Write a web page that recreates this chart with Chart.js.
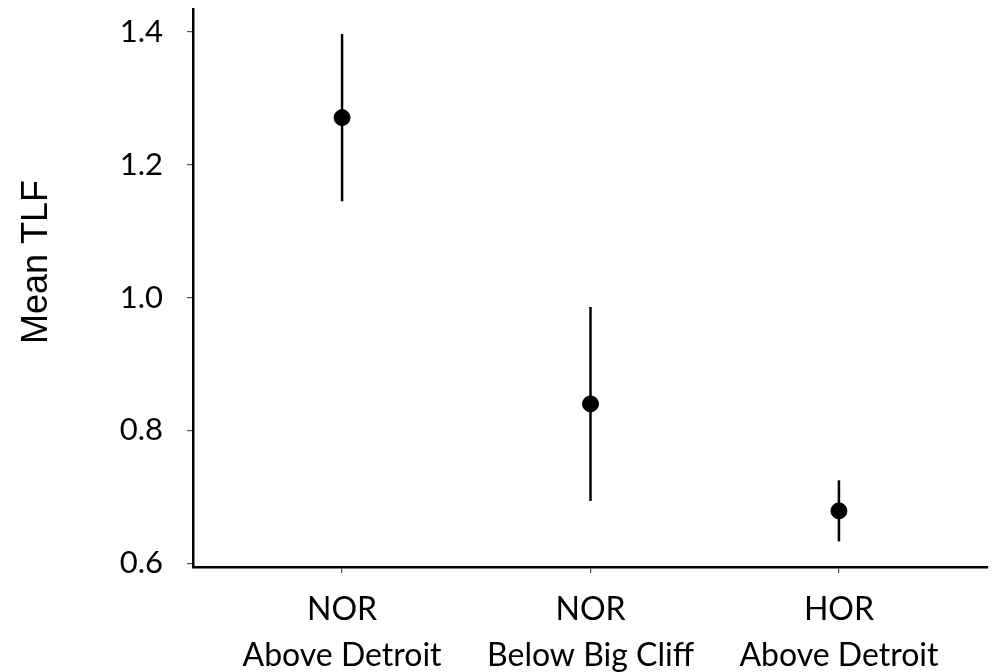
<!DOCTYPE html>
<html>
<head>
<meta charset="utf-8">
<script src="https://cdn.jsdelivr.net/npm/chart.js@4/dist/chart.umd.min.js"></script>
<style>
  html, body { margin: 0; padding: 0; background: #fff; }
  #wrap { width: 997px; height: 672px; }
</style>
</head>
<body>
<div id="wrap"><canvas id="chart" width="997" height="672"></canvas></div>
<script>
// data
const groups = [["NOR", "Above Detroit"], ["NOR", "Below Big Cliff"], ["HOR", "Above Detroit"]]
const meanTLF = [1.271, 0.840, 0.679]
const upperTLF = [1.397, 0.986, 0.725]
const lowerTLF = [1.145, 0.694, 0.633]
const yTicks = [0.6, 0.8, 1.0, 1.2, 1.4]
const yTitle = "Mean TLF"

const tickFont = { family: "Lato", size: 31 }

// error bars: one small line per group
const errorSets = groups.map((g, i) => ({
  type: "line",
  data: [
    { x: i, y: lowerTLF[i] },
    { x: i, y: upperTLF[i] },
  ],
  borderColor: "#000",
  borderWidth: 2.5,
  pointRadius: 0,
}))

const yTitlePlugin = {
  id: "yTitle",
  afterDraw(chart) {
    const ctx = chart.ctx
    ctx.save()
    ctx.translate(37, 262)
    ctx.rotate(-Math.PI / 2)
    ctx.font = "36px 'Liberation Sans', Arial, sans-serif"
    ctx.fillStyle = "#000"
    ctx.textAlign = "center"
    ctx.textBaseline = "middle"
    ctx.fillText(yTitle, 0, 0)
    ctx.restore()
  },
}

// keep the label overhang from shrinking the plot area
function noPad(scale) {
  scale.paddingTop = 0
  scale.paddingBottom = 0
  scale.paddingLeft = 0
  scale.paddingRight = 0
}

const config = {
  type: "scatter",
  data: {
    datasets: [
      {
        data: meanTLF.map((v, i) => ({ x: i, y: v })),
        backgroundColor: "#000",
        borderColor: "#000",
        pointRadius: 8,
        pointHoverRadius: 8,
      },
      ...errorSets,
    ],
  },
  options: {
    responsive: false,
    animation: false,
    layout: { padding: { top: 7, right: 6, left: 0, bottom: 0 } },
    plugins: { legend: { display: false }, tooltip: { enabled: false } },
    scales: {
      x: {
        type: "linear",
        min: -0.6,
        max: 2.6,
        afterBuildTicks: (scale) => {
          scale.ticks = groups.map((g, i) => ({ value: i }))
        },
        afterFit: (scale) => {
          scale.height = 105
          noPad(scale)
        },
        ticks: {
          callback: (val) => groups[val],
          color: "#000",
          font: { family: "Lato", size: 32, lineHeight: 1.46 },
          padding: 13,
          maxRotation: 0,
          autoSkip: false,
        },
        grid: { drawOnChartArea: false, drawTicks: true, tickLength: 6, color: "#555", lineWidth: 1.2 },
        border: { color: "#000", width: 2.5 },
      },
      y: {
        min: 0.5945,
        max: 1.4345,
        afterBuildTicks: (scale) => {
          scale.ticks = yTicks.map((v) => ({ value: v }))
        },
        afterFit: (scale) => {
          scale.width = 193
          noPad(scale)
        },
        ticks: {
          callback: (val) => val.toFixed(1),
          color: "#000",
          font: tickFont,
          padding: 24,
        },
        grid: { drawOnChartArea: false, drawTicks: true, tickLength: 6, color: "#555", lineWidth: 1.2 },
        border: { color: "#000", width: 2.5 },
      },
    },
  },
  plugins: [yTitlePlugin],
}

const chart = new Chart(document.getElementById("chart"), config)
</script>
</body>
</html>
